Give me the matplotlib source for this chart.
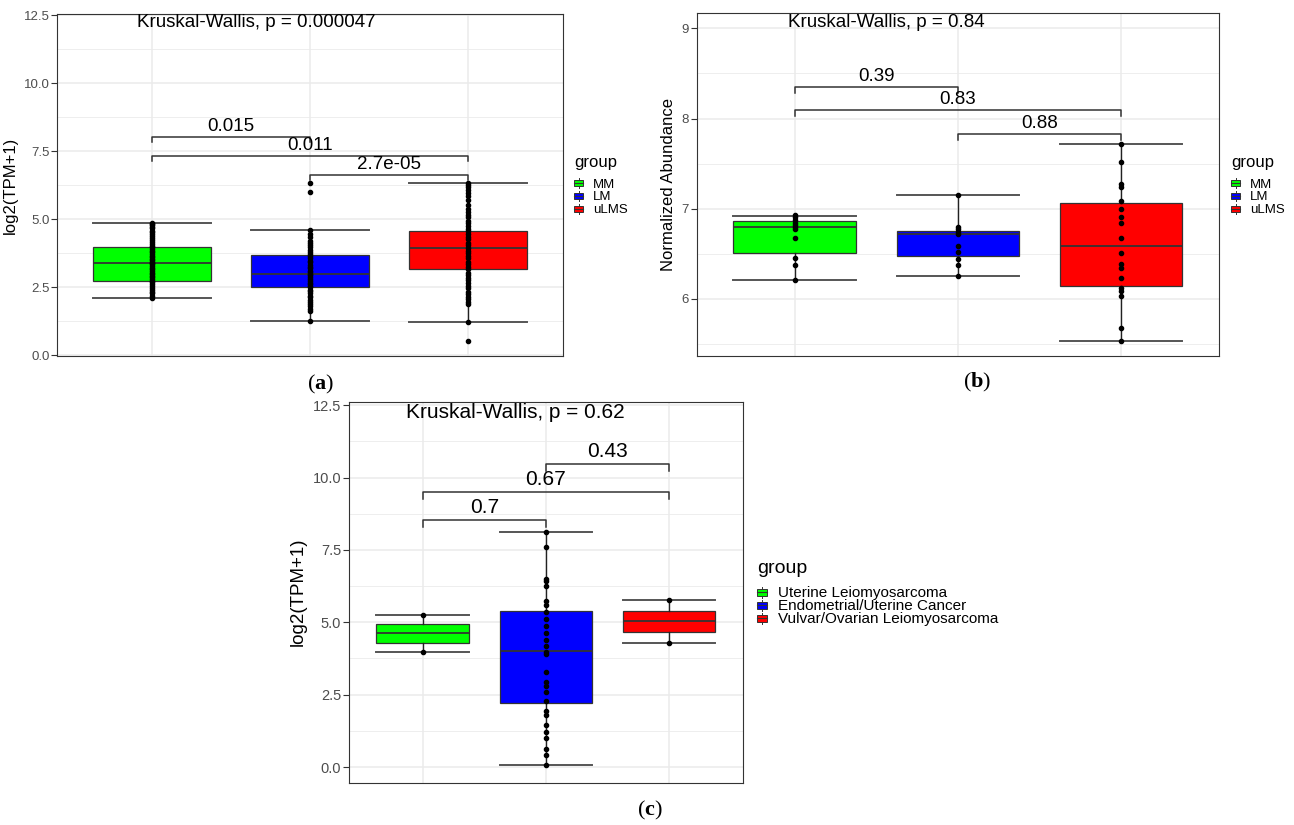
import numpy as np
import matplotlib
matplotlib.use('Agg')
from matplotlib import pyplot as plt
from matplotlib.patches import Rectangle
from matplotlib.lines import Line2D
from matplotlib.ticker import MultipleLocator

plt.rcParams['font.family'] = ['Liberation Sans', 'DejaVu Sans']
plt.rcParams['mathtext.fontset'] = 'custom'
plt.rcParams['mathtext.rm'] = 'Liberation Serif'
plt.rcParams['mathtext.bf'] = 'Liberation Serif:bold'

# DATA -----------------------------
colors     = ['#00FF00', '#0000FF', '#FF0000']
groups_ab  = ['MM', 'LM', 'uLMS']
groups_c   = ['Uterine Leiomyosarcoma', 'Endometrial/Uterine Cancer', 'Vulvar/Ovarian Leiomyosarcoma']

# panel a : log2(TPM+1)
a_q1  = [2.73, 2.50, 3.17]
a_med = [3.40, 2.99, 3.93]
a_q3  = [3.99, 3.69, 4.57]
a_lo  = [2.09, 1.24, 1.22]
a_hi  = [4.87, 4.62, 6.34]
a_pts_mm   = [2.09, 2.18, 2.27, 2.33, 2.41, 2.47, 2.55, 2.61, 2.68, 2.73, 2.79, 2.86, 2.92, 2.98,
              3.04, 3.09, 3.16, 3.21, 3.27, 3.34, 3.38, 3.44, 3.49, 3.55, 3.61, 3.66, 3.73, 3.79,
              3.84, 3.91, 3.97, 4.03, 4.10, 4.16, 4.24, 4.31, 4.37, 4.44, 4.52, 4.58, 4.66, 4.73,
              4.79, 4.84, 4.87]
a_pts_lm   = [1.24, 1.61, 1.69, 1.80, 1.88, 1.97, 2.04, 2.13, 2.19, 2.27, 2.36, 2.41, 2.49, 2.55,
              2.63, 2.67, 2.74, 2.82, 2.86, 2.94, 2.99, 3.06, 3.11, 3.19, 3.24, 3.33, 3.41, 3.47,
              3.57, 3.63, 3.71, 3.81, 3.87, 3.97, 4.04, 4.13, 4.21, 4.34, 4.47, 4.62, 6.01, 6.34]
a_pts_ulms = [0.54, 1.22, 1.89, 1.96, 2.06, 2.14, 2.26, 2.33, 2.46, 2.54, 2.64, 2.77, 2.84, 2.96,
              3.04, 3.17, 3.24, 3.36, 3.44, 3.56, 3.63, 3.76, 3.84, 3.93, 4.06, 4.14, 4.26, 4.33,
              4.46, 4.57, 4.63, 4.76, 4.86, 4.94, 5.07, 5.16, 5.27, 5.38, 5.53, 5.71, 5.84, 5.98,
              6.09, 6.18, 6.27, 6.34]
a_pairs  = [(1, 2), (1, 3), (2, 3)]
a_pvals  = ['0.015', '0.011', '2.7e-05']
a_bary   = [8.03, 7.33, 6.64]
a_kw     = 'Kruskal-Wallis, p = 0.000047'

# panel b : normalized abundance
b_q1  = [6.504, 6.474, 6.148]
b_med = [6.793, 6.719, 6.585]
b_q3  = [6.867, 6.756, 7.063]
b_lo  = [6.207, 6.256, 5.533]
b_hi  = [6.922, 7.148, 7.722]
b_pts_mm   = [6.930, 6.904, 6.875, 6.845, 6.818, 6.793, 6.778, 6.670, 6.452, 6.374, 6.207]
b_pts_lm   = [7.148, 6.800, 6.770, 6.737, 6.719, 6.585, 6.515, 6.444, 6.374, 6.256]
b_pts_ulms = [7.722, 7.522, 7.278, 7.237, 7.081, 6.996, 6.907, 6.844, 6.670, 6.504, 6.385,
              6.344, 6.237, 6.122, 6.093, 6.030, 5.678, 5.533]
b_pairs  = [(1, 2), (1, 3), (2, 3)]
b_pvals  = ['0.39', '0.83', '0.88']
b_bary   = [8.352, 8.096, 7.830]
b_kw     = 'Kruskal-Wallis, p = 0.84'

# panel c : log2(TPM+1)
c_q1  = [4.29, 2.20, 4.65]
c_med = [4.62, 4.02, 5.03]
c_q3  = [4.94, 5.39, 5.40]
c_lo  = [3.96, 0.06, 4.27]
c_hi  = [5.26, 8.13, 5.78]
c_pts_ul  = [5.26, 3.96]
c_pts_ec  = [8.13, 7.59, 6.51, 6.42, 6.25, 5.73, 5.59, 5.34, 5.10, 4.87, 4.63, 4.39, 4.18, 3.97,
             3.89, 3.28, 2.95, 2.81, 2.58, 2.29, 1.95, 1.80, 1.46, 1.20, 0.99, 0.64, 0.41, 0.06]
c_pts_vol = [5.78, 4.27]
c_pairs  = [(2, 3), (1, 3), (1, 2)]
c_pvals  = ['0.43', '0.67', '0.7']
c_bary   = [10.47, 9.51, 8.54]
c_kw     = 'Kruskal-Wallis, p = 0.62'
# ----------------------------------

W, H = 1294, 825
fig = plt.figure(figsize=(W/100, H/100), dpi=100)

def px_axes(left, top, right, bottom):
    return fig.add_axes([left/W, 1 - bottom/H, (right-left)/W, (bottom-top)/H])

def draw_panel(ax, q1, med, q3, lo, hi, pts, pairs, pvals, bary, tick_drop, kw, kw_xy,
               ylim, major, minor, fs_tick, fs_text, ylabel, fs_ylab):
    stats = [dict(q1=q1[i], med=med[i], q3=q3[i], whislo=lo[i], whishi=hi[i], fliers=[])
             for i in range(3)]
    bp = ax.bxp(stats, positions=[1, 2, 3], widths=0.75, capwidths=0.75, patch_artist=True,
                showfliers=False, zorder=2,
                boxprops=dict(edgecolor='#333333', linewidth=0.9),
                medianprops=dict(color='#333333', linewidth=1.3),
                whiskerprops=dict(color='#222222', linewidth=1.0),
                capprops=dict(color='#555555', linewidth=1.4))
    for patch, col in zip(bp['boxes'], colors):
        patch.set_facecolor(col)
    for i, v in enumerate(pts):
        ax.plot(np.full(len(v), i + 1), v, 'o', color='black', ms=3.0, zorder=3)

    # comparison brackets
    for (g1, g2), p, y in zip(pairs, pvals, bary):
        ax.plot([g1, g1, g2, g2], [y - tick_drop, y, y, y - tick_drop], color='#333333',
                lw=1.1, zorder=3)
        ax.text((g1 + g2)/2, y + tick_drop*0.35, p, ha='center', va='bottom',
                fontsize=fs_text, color='black')
    ax.text(kw_xy[0], kw_xy[1], kw, ha='center', va='center', fontsize=fs_text, color='black')

    ax.set_xlim(0.4, 3.6)
    ax.set_ylim(*ylim)
    ax.set_xticks([1, 2, 3])
    ax.set_xticklabels([])
    ax.yaxis.set_major_locator(MultipleLocator(major))
    ax.yaxis.set_minor_locator(MultipleLocator(minor))
    ax.tick_params(axis='x', length=0)
    ax.tick_params(axis='y', which='major', length=4, width=0.8, color='#333333',
                   labelsize=fs_tick, labelcolor='#4D4D4D', pad=1.5)
    ax.tick_params(axis='y', which='minor', length=0)
    ax.grid(True, which='major', color='#EBEBEB', lw=1.1, zorder=0)
    ax.grid(True, which='minor', axis='y', color='#EBEBEB', lw=0.6, zorder=0)
    ax.set_axisbelow(True)
    for s in ax.spines.values():
        s.set_color('#333333')
        s.set_linewidth(0.8)
    ax.set_ylabel(ylabel, fontsize=fs_ylab, labelpad=4)

def add_legend(labels, key_x, key_w, key_h, key_y, label_x, title_base, pitch, fs, fs_title):
    # ggplot-like legend: title, boxplot keys, labels (pixel coordinates from top-left)
    fig.text(key_x/W, 1 - title_base/H, 'group', ha='left', va='baseline', fontsize=fs_title)
    for i, (lab, col) in enumerate(zip(labels, colors)):
        yc = key_y + i*pitch
        fig.add_artist(Rectangle(((key_x)/W, 1 - (yc + key_h/2)/H), key_w/W, key_h/H,
                                 transform=fig.transFigure, facecolor=col,
                                 edgecolor='#333333', linewidth=0.7))
        fig.add_artist(Line2D([key_x/W, (key_x + key_w)/W], [1 - yc/H, 1 - yc/H],
                              transform=fig.transFigure, color='#333333', lw=0.8))
        xm = (key_x + key_w/2)/W
        fig.add_artist(Line2D([xm, xm], [1 - (yc - key_h/2 - 2)/H, 1 - (yc - key_h/2)/H],
                              transform=fig.transFigure, color='#333333', lw=0.7))
        fig.add_artist(Line2D([xm, xm], [1 - (yc + key_h/2)/H, 1 - (yc + key_h/2 + 2)/H],
                              transform=fig.transFigure, color='#333333', lw=0.7))
        fig.text(label_x/W, 1 - (yc + fs*0.45)/H, lab, ha='left', va='baseline', fontsize=fs)

# panel a
ax_a = px_axes(57.4, 14, 563, 356)
draw_panel(ax_a, a_q1, a_med, a_q3, a_lo, a_hi, [a_pts_mm, a_pts_lm, a_pts_ulms],
           a_pairs, a_pvals, a_bary, 0.18, a_kw, (1.66, 12.22),
           (-0.03, 12.55), 2.5, 1.25, 9.5, 13.5, 'log2(TPM+1)', 12)
add_legend(groups_ab, 574, 9, 6, 183.3, 593, 166.5, 12.9, 9.5, 12)

# panel b
ax_b = px_axes(696.6, 13.3, 1219, 356)
draw_panel(ax_b, b_q1, b_med, b_q3, b_lo, b_hi, [b_pts_mm, b_pts_lm, b_pts_ulms],
           b_pairs, b_pvals, b_bary, 0.067, b_kw, (1.563, 9.07),
           (5.367, 9.167), 1, 0.5, 9.5, 13.5, 'Normalized Abundance', 12)
add_legend(groups_ab, 1231, 9, 6, 183.3, 1250, 166.5, 12.9, 9.5, 12)

# panel c
ax_c = px_axes(348.7, 401.7, 743, 782.7)
draw_panel(ax_c, c_q1, c_med, c_q3, c_lo, c_hi, [c_pts_ul, c_pts_ec, c_pts_vol],
           c_pairs, c_pvals, c_bary, 0.25, c_kw, (1.754, 12.24),
           (-0.54, 12.62), 2.5, 1.25, 10.5, 15, 'log2(TPM+1)', 13.5)
add_legend(groups_c, 757, 10, 7, 592, 778, 573, 13.2, 11, 14)

# panel captions
for lab, x, y in [('a', 321, 384), ('b', 977, 382), ('c', 650, 810)]:
    fig.text(x/W, 1 - y/H, '($\\mathbf{' + lab + '}$)', ha='center', va='center',
             fontsize=16, family='Liberation Serif')

fig.savefig('out.png', dpi=100)
